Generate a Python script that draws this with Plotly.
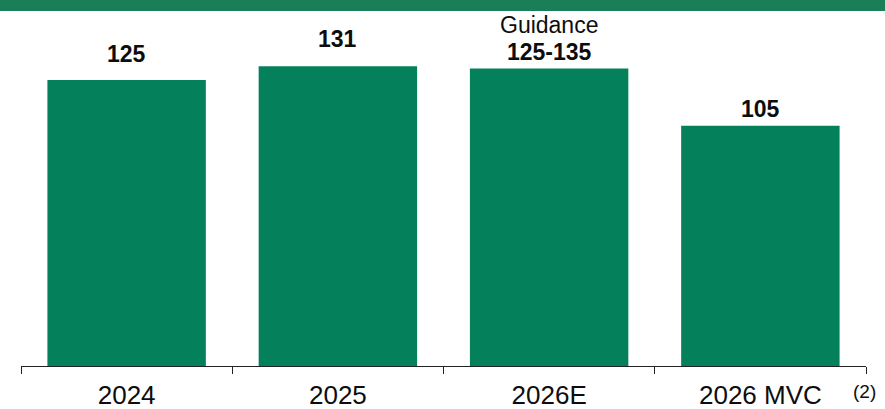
import plotly.graph_objects as go

# Categories and values
categories = ["2024", "2025", "2026E", "2026 MVC"]
values = [125, 131, 130, 105]
value_labels = ["125", "131", "125-135", "105"]
label_gap_px = [11, 12, 2, 2]  # extra lift of each value label above its bar

BAR_GREEN = "#04805A"
BAND_GREEN = "#1A7E58"
FONT = "Arial, Liberation Sans, sans-serif"

W, H = 885, 409
M_L, M_R, M_T, M_B = 21, 19, 11, 43
plot_h = H - M_T - M_B
px_per_unit = 2.288
y_max = plot_h / px_per_unit

fig = go.Figure()
fig.add_trace(go.Bar(
    x=categories,
    y=values,
    marker=dict(color=BAR_GREEN, line=dict(width=0)),
    hoverinfo="skip",
))

annotations = []
for i, (val, lab, gap) in enumerate(zip(values, value_labels, label_gap_px)):
    annotations.append(dict(
        x=i, y=val, xref="x", yref="y",
        text=f"<b>{lab}</b>", showarrow=False,
        yanchor="bottom", yshift=gap,
        font=dict(family=FONT, size=23, color="#0d0d0d"),
    ))

# guidance caption above the 2026E range
annotations.append(dict(
    x=2, y=values[2], xref="x", yref="y",
    text="Guidance", showarrow=False,
    yanchor="bottom", yshift=29,
    font=dict(family=FONT, size=23, color="#0d0d0d"),
))

# footnote marker at the right end of the axis
annotations.append(dict(
    x=1, y=0, xref="paper", yref="paper",
    text="(2)", showarrow=False,
    xanchor="center", yanchor="middle", xshift=-2, yshift=-25,
    font=dict(family=FONT, size=19, color="#0d0d0d"),
))

# green header band across the top
shapes = [dict(
    type="rect", xref="paper", yref="paper",
    x0=-0.05, x1=1.05, y0=1.0, y1=1.0 + 12 / plot_h,
    fillcolor=BAND_GREEN, line=dict(width=0), layer="above",
)]

fig.update_layout(
    width=W, height=H,
    margin=dict(l=M_L, r=M_R, t=M_T, b=M_B, autoexpand=False),
    paper_bgcolor="white", plot_bgcolor="white",
    bargap=0.25,
    showlegend=False,
    annotations=annotations,
    shapes=shapes,
    xaxis=dict(
        type="category",
        range=[-0.5, 3.5],
        automargin=False,
        showline=True, linecolor="#222222", linewidth=1.3,
        ticks="outside", tickson="boundaries", ticklen=7,
        tickcolor="#222222", tickwidth=1.3,
        ticklabelstandoff=6,
        tickfont=dict(family=FONT, size=26, color="#0d0d0d"),
        showgrid=False, zeroline=False,
    ),
    yaxis=dict(
        range=[0, y_max], visible=False, showgrid=False, zeroline=False,
        automargin=False,
    ),
)

fig.write_html("out.html")
